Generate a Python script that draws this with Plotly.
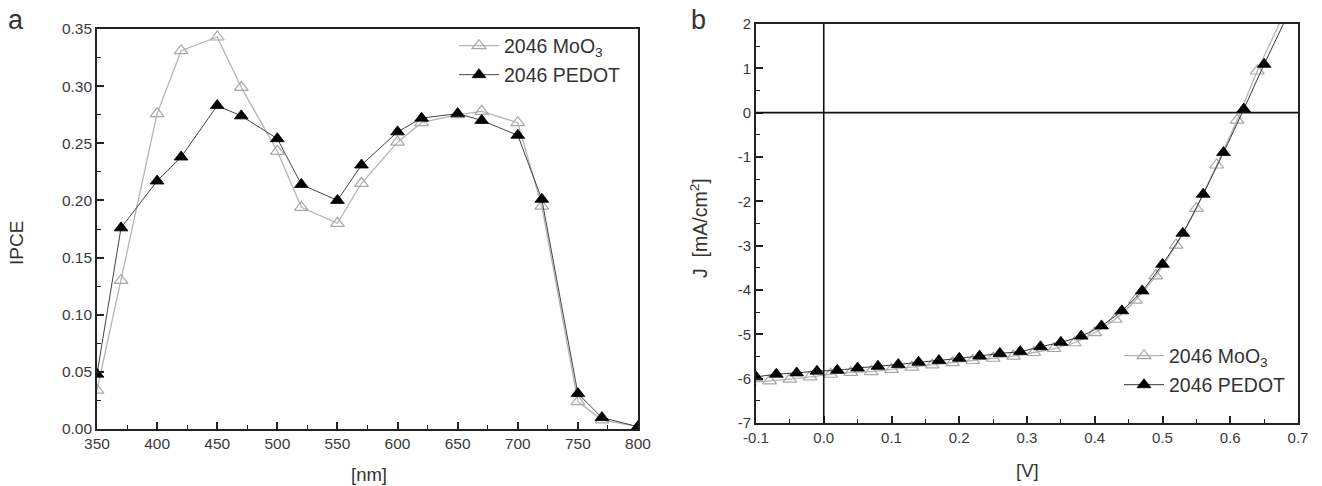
import plotly.graph_objects as go

# ---- Panel a: IPCE ----
wl = [350, 370, 400, 420, 450, 470, 500, 520, 550, 570, 600, 620, 650, 670, 700, 720, 750, 770, 800]
ipce_moo3 = [0.034, 0.130, 0.276, 0.331, 0.343, 0.299, 0.243, 0.194, 0.180, 0.215, 0.251, 0.268, 0.275, 0.278, 0.268, 0.195, 0.024, 0.008, 0.002]
ipce_pedot = [0.048, 0.176, 0.217, 0.238, 0.283, 0.274, 0.254, 0.214, 0.200, 0.231, 0.260, 0.272, 0.276, 0.270, 0.257, 0.201, 0.031, 0.010, 0.002]

# ---- Panel b: J-V ----
v_moo3 = [-0.11, -0.08, -0.05, -0.02, 0.01, 0.04, 0.07, 0.10, 0.13, 0.16, 0.19, 0.22, 0.25, 0.28, 0.31, 0.34,
          0.37, 0.40, 0.43, 0.46, 0.49, 0.52, 0.55, 0.58, 0.61, 0.64, 0.70]
j_moo3 = [-6.08, -6.05, -6.01, -5.96, -5.90, -5.86, -5.84, -5.79, -5.74, -5.69, -5.64, -5.59, -5.54, -5.49, -5.41, -5.32,
          -5.19, -4.96, -4.66, -4.23, -3.68, -2.99, -2.16, -1.18, -0.17, 0.94, 2.9]
v_pedot = [-0.10, -0.07, -0.04, -0.01, 0.02, 0.05, 0.08, 0.11, 0.14, 0.17, 0.20, 0.23, 0.26, 0.29, 0.32, 0.35,
           0.38, 0.41, 0.44, 0.47, 0.50, 0.53, 0.56, 0.59, 0.62, 0.65, 0.71]
j_pedot = [-5.96, -5.90, -5.87, -5.83, -5.81, -5.76, -5.72, -5.68, -5.63, -5.59, -5.54, -5.49, -5.43, -5.39, -5.28, -5.18,
           -5.04, -4.81, -4.47, -4.02, -3.42, -2.72, -1.84, -0.90, 0.08, 1.09, 3.0]

# tick labels
ipce_ticks = [0.00, 0.05, 0.10, 0.15, 0.20, 0.25, 0.30, 0.35]
wl_ticks = [350, 400, 450, 500, 550, 600, 650, 700, 750, 800]
v_ticks = [-0.1, 0.0, 0.1, 0.2, 0.3, 0.4, 0.5, 0.6, 0.7]
v_ticktext = ["-0.1", "0.0", "0.1", "0.2", "0.3", "0.4", "0.5", "0.6", "0.7"]
j_ticks = [2, 1, 0, -1, -2, -3, -4, -5, -6, -7]
j_ticktext = ["2", "1", "0", "-1", "-2", "-3", "-4", "-5", "-6", "-7"]

W, H = 1322, 486
FONT = "Liberation Sans, Arial, sans-serif"
GREY = "#b4b4b4"
TXT = "#333333"

def px(x):
    return x / W

def py(y):
    return 1 - y / H

fig = go.Figure()

tri_open = dict(symbol="triangle-up-open", size=12, color="#a8a8a8", line=dict(width=1.2, color="#a8a8a8"))
tri_fill = dict(symbol="triangle-up", size=12, color="#000000", line=dict(width=0.8, color="#000000"))

fig.add_trace(go.Scatter(x=wl, y=ipce_moo3, mode="lines+markers", name="2046 MoO<sub>3</sub>",
                         line=dict(color=GREY, width=1.3), marker=tri_open, xaxis="x", yaxis="y", legend="legend"))
fig.add_trace(go.Scatter(x=wl, y=ipce_pedot, mode="lines+markers", name="2046 PEDOT",
                         line=dict(color="#444444", width=1.0), marker=tri_fill, xaxis="x", yaxis="y", legend="legend2"))

fig.add_trace(go.Scatter(x=v_moo3, y=j_moo3, mode="lines+markers", name="2046 MoO<sub>3</sub>",
                         line=dict(color=GREY, width=1.3, shape="spline", smoothing=0.6), marker=tri_open,
                         xaxis="x2", yaxis="y2", legend="legend3"))
fig.add_trace(go.Scatter(x=v_pedot, y=j_pedot, mode="lines+markers", name="2046 PEDOT",
                         line=dict(color="#333333", width=1.0, shape="spline", smoothing=0.6), marker=tri_fill,
                         xaxis="x2", yaxis="y2", legend="legend4"))

axis_common = dict(showline=True, linecolor="#222222", linewidth=1.6, mirror=True, ticks="inside",
                   ticklen=7, tickwidth=1.6, tickcolor="#222222", showgrid=False, zeroline=False,
                   automargin=False)
minor_common = dict(ticks="inside", ticklen=4, tickwidth=1.4, tickcolor="#222222")
tf_a = dict(family=FONT, size=15.5, color="#3a3a3a")
tf_b = dict(family=FONT, size=15, color="#3a3a3a")

def leg(x, y):
    return dict(x=px(x), y=py(y), xanchor="left", yanchor="middle", bgcolor="rgba(0,0,0,0)",
                font=dict(family=FONT, size=19.5, color=TXT), itemwidth=40)

fig.update_layout(
    width=W, height=H, margin=dict(l=0, r=0, t=0, b=0, autoexpand=False),
    paper_bgcolor="white", plot_bgcolor="white",
    font=dict(family=FONT, color=TXT),
    xaxis=dict(domain=[px(97), px(638)], range=[350, 800], tickmode="array", tickvals=wl_ticks, anchor="y",
               tickfont=tf_a, minor=dict(dtick=25, tick0=350, **minor_common), **axis_common),
    yaxis=dict(domain=[py(429), py(29)], range=[0, 0.35], tickmode="array", tickvals=ipce_ticks,
               tickformat=".2f", anchor="x", tickfont=tf_a,
               minor=dict(dtick=0.025, tick0=0, **minor_common), **axis_common),
    xaxis2=dict(domain=[px(756), px(1298)], range=[-0.1, 0.7], tickmode="array", tickvals=v_ticks,
                ticktext=v_ticktext, anchor="y2", tickfont=tf_b,
                minor=dict(dtick=0.05, tick0=-0.1, **minor_common), **axis_common),
    yaxis2=dict(domain=[py(423), py(24)], range=[-7, 2], tickmode="array", tickvals=j_ticks,
                ticktext=j_ticktext, anchor="x2", tickfont=tf_b,
                minor=dict(dtick=0.5, tick0=0, **minor_common), **axis_common),
    legend=leg(454, 46),
    legend2=leg(454, 75),
    legend3=leg(1119, 356),
    legend4=leg(1119, 385),
    showlegend=True,
)

# zero lines in panel b
fig.add_shape(type="line", xref="x2", yref="y2", x0=-0.1, x1=0.7, y0=0, y1=0, line=dict(color="#111111", width=1.6))
fig.add_shape(type="line", xref="x2", yref="y2", x0=0, x1=0, y0=-7, y1=2, line=dict(color="#111111", width=1.6))

ann = [
    dict(text="a", x=px(16), y=py(20), size=27),
    dict(text="b", x=px(699), y=py(20), size=27),
    dict(text="[nm]", x=px(369), y=py(474), size=18.5),
    dict(text="[V]", x=px(1027), y=py(470), size=18.5),
]
for a in ann:
    fig.add_annotation(text=a["text"], x=a["x"], y=a["y"], xref="paper", yref="paper", showarrow=False,
                       xanchor="center", yanchor="middle", font=dict(family=FONT, size=a["size"], color=TXT))
fig.add_annotation(text="IPCE", x=px(16), y=py(243), xref="paper", yref="paper", showarrow=False, textangle=-90,
                   xanchor="center", yanchor="middle", font=dict(family=FONT, size=19, color=TXT))
fig.add_annotation(text="J  [mA/cm<sup>2</sup>]", x=px(699), y=py(228), xref="paper", yref="paper", showarrow=False,
                   textangle=-90, xanchor="center", yanchor="middle", font=dict(family=FONT, size=19.5, color=TXT))

fig.write_html("out.html")
